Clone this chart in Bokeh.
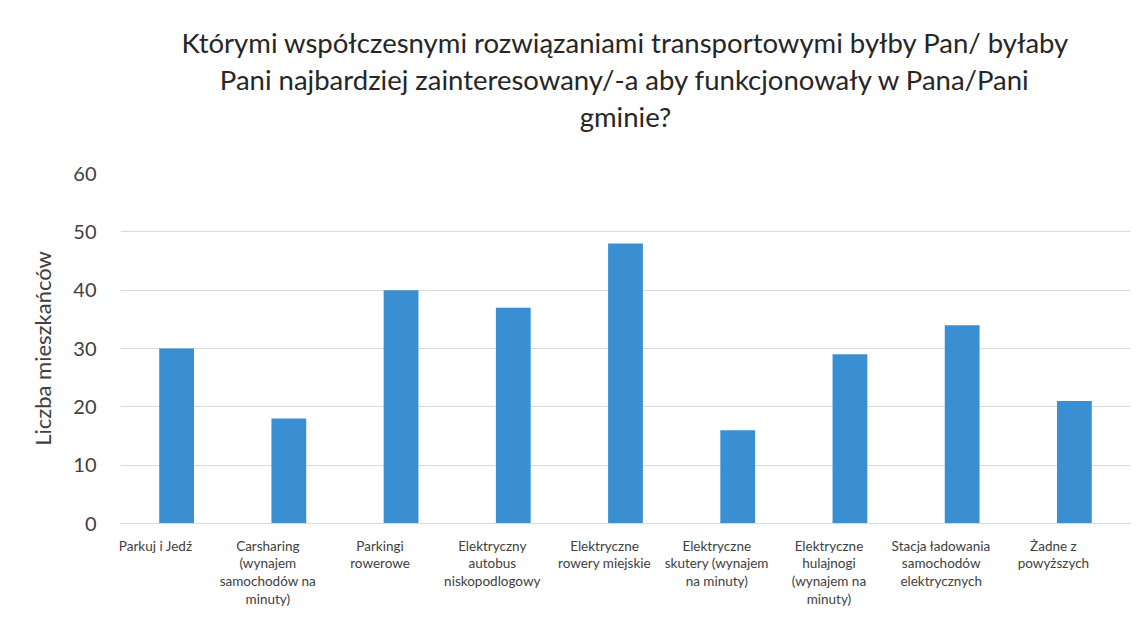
from bokeh.plotting import figure
from bokeh.models import (ColumnDataSource, Range1d, Title,
                          FixedTicker, LinearAxis)
from bokeh.embed import file_html
from bokeh.resources import INLINE

# ---- data ----
categories = ["Parkuj i Jedź",
              "Carsharing (wynajem samochodów na minuty)",
              "Parkingi rowerowe",
              "Elektryczny autobus niskopodlogowy",
              "Elektryczne rowery miejskie",
              "Elektryczne skutery (wynajem na minuty)",
              "Elektryczne hulajnogi (wynajem na minuty)",
              "Stacja ładowania samochodów elektrycznych",
              "Żadne z powyższych"]
tick_labels = ["Parkuj i Jedź",
               "Carsharing\n(wynajem\nsamochodów na\nminuty)",
               "Parkingi\nrowerowe",
               "Elektryczny\nautobus\nniskopodlogowy",
               "Elektryczne\nrowery miejskie",
               "Elektryczne\nskutery (wynajem\nna minuty)",
               "Elektryczne\nhulajnogi\n(wynajem na\nminuty)",
               "Stacja ładowania\nsamochodów\nelektrycznych",
               "Żadne z\npowyższych"]
values = [30, 18, 40, 37, 48, 16, 29, 34, 21]
y_ticks = [0, 10, 20, 30, 40, 50, 60]
title_lines = ["Którymi współczesnymi rozwiązaniami transportowymi byłby Pan/ byłaby",
               "Pani najbardziej zainteresowany/-a aby funkcjonowały w Pana/Pani",
               "gminie?"]
y_label = "Liczba mieszkańców"

FONT = "Lato"
W, H = 1139, 610
n = len(categories)
idx = list(range(n))

p = figure(width=W, height=H, output_backend="svg", toolbar_location=None,
           x_range=Range1d(-0.5, n - 0.5),
           y_range=Range1d(0, 60),
           min_border_left=120, min_border_right=W - 1130,
           min_border_top=173, min_border_bottom=H - 525)

src = ColumnDataSource(dict(x=idx, cat=categories, val=values))
p.vbar(x="x", top="val", width=0.31, source=src,
       fill_color="#3a8fd2", line_color=None)

p.outline_line_color = None
p.background_fill_color = "white"
p.border_fill_color = "white"

p.xgrid.grid_line_color = None
p.ygrid.grid_line_color = "#d9d9d9"
p.ygrid.grid_line_width = 1
p.ygrid.ticker = FixedTicker(ticks=y_ticks)

# y axis
p.yaxis.ticker = FixedTicker(ticks=y_ticks)
p.yaxis.axis_line_color = None
p.yaxis.major_tick_line_color = None
p.yaxis.minor_tick_line_color = None
p.yaxis.major_label_text_font = FONT
p.yaxis.major_label_text_font_size = "20px"
p.yaxis.major_label_text_color = "#404040"
p.yaxis.major_label_standoff = 18
p.yaxis.axis_label = y_label
p.yaxis.axis_label_text_font = FONT
p.yaxis.axis_label_text_font_size = "22px"
p.yaxis.axis_label_text_font_style = "normal"
p.yaxis.axis_label_text_color = "#404040"
p.yaxis.axis_label_standoff = 14

# main x axis hidden; category labels on a slightly shifted axis (as in reference)
p.xaxis.visible = False
shift = 0.187
p.extra_x_ranges = {"lab": Range1d(-0.5 + shift, n - 0.5 + shift)}
lab_axis = LinearAxis(x_range_name="lab",
                      ticker=FixedTicker(ticks=idx),
                      major_label_overrides={i: t for i, t in zip(idx, tick_labels)})
lab_axis.axis_line_color = "#d9d9d9"
lab_axis.major_tick_line_color = None
lab_axis.minor_tick_line_color = None
lab_axis.major_label_text_font = FONT
lab_axis.major_label_text_font_size = "13.5px"
lab_axis.major_label_text_color = "#404040"
lab_axis.major_label_text_line_height = 1.12
lab_axis.major_label_standoff = 8
p.add_layout(lab_axis, "below")

# blank spacer (white on white) between the plot and the title block
p.add_layout(Title(text="g?", align="center",
                   text_font=FONT, text_font_size="27.5px",
                   text_color="white", standoff=6), "above")

# title: three centred lines, last line added first (closest to the plot)
standoffs = [0, 4, 0]
for line, so in reversed(list(zip(title_lines, standoffs))):
    p.add_layout(Title(text=line, align="center",
                       text_font=FONT, text_font_size="27.5px",
                       text_font_style="normal", text_color="#262626",
                       standoff=so, offset=2), "above")

open("out.html", "w").write(file_html(p, INLINE))
